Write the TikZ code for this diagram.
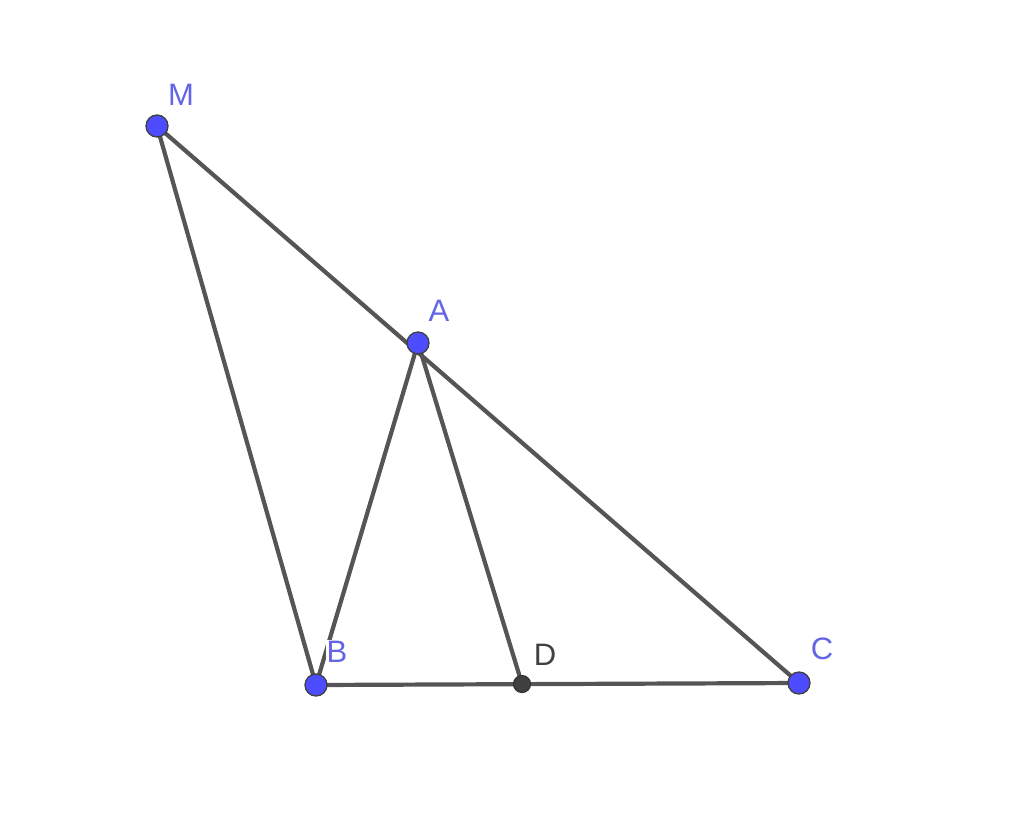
\documentclass[tikz,border=0pt]{standalone}
\usepackage{fontspec}
\setmainfont{Liberation Sans}
\definecolor{segc}{RGB}{85,85,85}
\definecolor{ptblue}{RGB}{77,77,255}
\definecolor{lblblue}{RGB}{100,100,230}
\definecolor{ptdark}{RGB}{64,64,64}
\begin{document}
\begin{tikzpicture}[x=1pt,y=-1pt,
  seg/.style={draw=segc,line width=4.2pt},
  bluept/.style={circle,fill=ptblue,draw=black!75,line width=1.3pt,inner sep=0pt,minimum size=22pt},
  darkpt/.style={circle,fill=ptdark,draw=black!80,line width=1.2pt,inner sep=0pt,minimum size=17pt},
  lbl/.style={text=lblblue,font=\fontsize{31}{31}\selectfont,inner sep=1pt},
  lblw/.style={lbl,fill=white}]
\useasboundingbox (0,0) rectangle (1024,827);
\coordinate (M) at (157,126);
\coordinate (A) at (418,343);
\coordinate (B) at (316,685);
\coordinate (C) at (799,683);
\coordinate (D) at (522,684);
\draw[seg] (M) -- (C);
\draw[seg] (M) -- (B);
\draw[seg] (A) -- (B);
\draw[seg] (A) -- (D);
\draw[seg] (B) -- (C);
\node[lblw] (lB) at (337,652) {B};
\node[lbl] (lM) at (181,95) {M};
\node[lbl] (lA) at (439,311) {A};
\node[lbl,text=ptdark] (lD) at (545,655) {D};
\node[lbl] (lC) at (822,649) {C};
\node[bluept] (pM) at (M) {};
\node[bluept] (pA) at (A) {};
\node[bluept] (pB) at (B) {};
\node[bluept] (pC) at (C) {};
\node[darkpt] (pD) at (D) {};
\end{tikzpicture}
\end{document}
